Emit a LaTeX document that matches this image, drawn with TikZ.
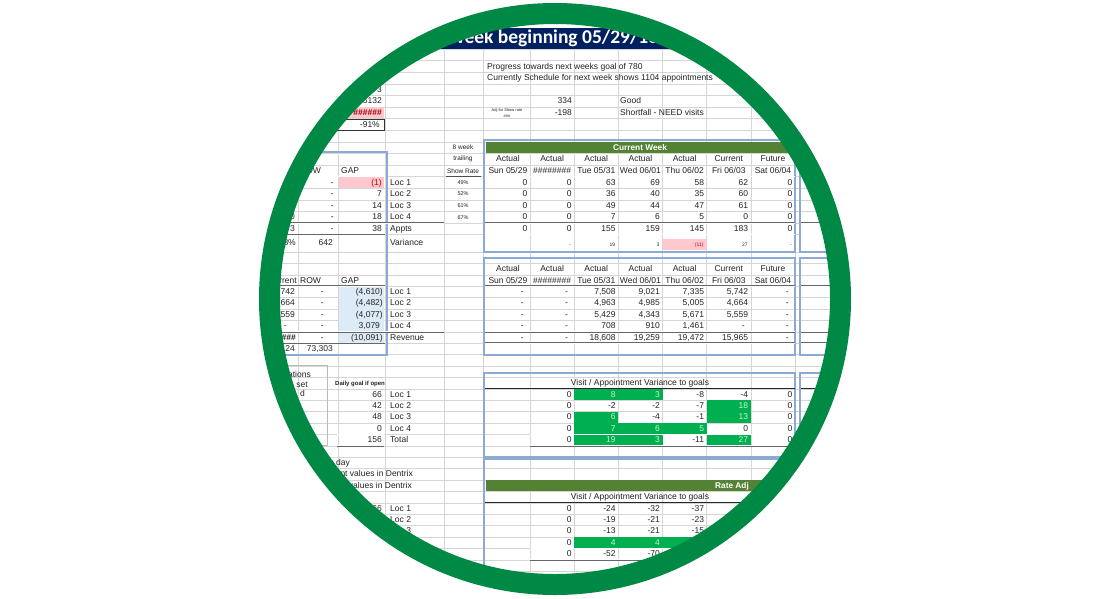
\documentclass[tikz,border=0pt]{standalone}
\usepackage{fontspec}
\setmainfont{Liberation Sans}
\newfontfamily\titlefont{Carlito}
\definecolor{ringg}{RGB}{0,137,68}
\definecolor{navy}{RGB}{0,32,96}
\definecolor{olive}{RGB}{84,130,53}
\definecolor{gfill}{RGB}{0,176,80}
\definecolor{gtxt}{RGB}{205,240,210}
\definecolor{pinkf}{RGB}{255,199,206}
\definecolor{darkred}{RGB}{156,0,6}
\definecolor{redt}{RGB}{192,0,0}
\definecolor{bluef}{RGB}{221,235,247}
\definecolor{boxb}{RGB}{141,170,212}
\definecolor{gridc}{RGB}{214,214,214}
\definecolor{ink}{RGB}{35,35,35}
\newcommand\myrow[3]{\foreach \v [count=\i from #2] in {#3} {\node[num] at ({483.33+44.17*\i},#1) {\v};}}
\newcommand\mydash[2]{\foreach \i in {#2} {\node[num] at ({479.83+44.17*\i},#1) {-};}}
\newcommand\myhdr[2]{%
  \foreach \h [count=\i] in {Actual,Actual,Actual,Actual,Actual,Current,Future} {\node[ctr] at ({463.75+44.17*\i},#1) {\h};}
  \foreach \h [count=\i] in {Sun 05/29,{\#\#\#\#\#\#\#\#},Tue 05/31,Wed 06/01,Thu 06/02,Fri 06/03,Sat 06/04} {\node[ctr] at ({463.75+44.17*\i},#2) {\h};}}
\newcommand\grnrow[2]{%
  \foreach \v/\g [count=\i from 2] in {#2} {%
    \ifnum\g=1
      \fill[gfill] ({441.66+44.17*\i},#1) rectangle ({485.83+44.17*\i},{#1+11.4});
      \node[num,text=gtxt] at ({483.33+44.17*\i},{#1+5.7}) {\v};
    \else
      \node[num] at ({483.33+44.17*\i},{#1+5.7}) {\v};
    \fi}}
\begin{document}
\begin{tikzpicture}[x=1pt,y=-1pt,
  t/.style={inner sep=0pt, font=\fontsize{8.5}{9}\selectfont, text=ink},
  num/.style={t, anchor=mid east},
  lab/.style={t, anchor=mid west},
  ctr/.style={t, anchor=mid},
  tinyt/.style={inner sep=0pt, font=\fontsize{5.5}{6}\selectfont, text=ink},
  dbl/.style={draw=black!60, line width=0.45pt, double=white, double distance=0.7pt},
  bx/.style={draw=boxb, line width=1.1pt},
  gl/.style={draw=gridc, line width=0.6pt},
  bline/.style={draw=black!85, line width=1.1pt}
]
\useasboundingbox (0,0) rectangle (1111,598);
\fill[white] (0,0) rectangle (1111,598);
\begin{scope}
\clip (555,299) circle[radius=287pt];
% grid
\foreach \k in {0,...,16} {\draw[gl] (250,{49+11.6*\k}) -- (870,{49+11.6*\k});}
\foreach \k in {0,...,31} {\draw[gl] (250,{252+11.4*\k}) -- (870,{252+11.4*\k});}
\foreach \x in {255,298,338,385,444,483,530,574.2,618.3,662.5,706.7,750.8,795,840,885} {\draw[gl] (\x,48) -- (\x,600);}
% title bar
\fill[navy] (250,27.5) rectangle (870,48.5);
\node[anchor=base west,inner sep=0pt,text=white,font=\titlefont\bfseries\fontsize{19.5}{21}\selectfont] (title) at (450,43.5) {week beginning 05/29/16};
% top texts
\node[lab] (prog) at (487,66.4) {Progress towards next weeks goal of 780};
\node[lab] (sched) at (487,78.0) {Currently Schedule for next week shows 1104 appointments};
\node[num] (v334) at (572,101.2) {334};
\node[num] (v198) at (572,112.8) {-198};
\node[lab] (good) at (620,101.2) {Good};
\node[lab] (short) at (620,112.8) {Shortfall - NEED visits};
\node[inner sep=0pt,font=\fontsize{4}{4.5}\selectfont,text=ink] (adj) at (507,110.5) {Adj for Show rate};
\node[inner sep=0pt,font=\fontsize{4}{4.5}\selectfont,text=ink] (adj2) at (507,116.5) {\#\#\#};
\node[num] (lt3) at (382,89.6) {3};
\node[num] (lt4) at (382,101.2) {5132};
\fill[pinkf] (338.5,107.3) rectangle (384,118.3);
\node[num,text=darkred,font=\bfseries\fontsize{8.5}{9}\selectfont] (lt5) at (382,112.8) {\#\#\#\#\#\#};
\draw[black!80,line width=0.6pt] (337.5,118.8) rectangle (384,130.2);
\node[num] (lt6) at (380,124.4) {-91\%};
% ===== left box 1 =====
\draw[bx] (250,152) rectangle (387,355);
\node[lab] (hrow1) at (300,170.8) {ROW};
\node[lab] (hgap1) at (341,170.8) {GAP};
\fill[pinkf] (338.5,177) rectangle (384,188);
\node[num,text=redt] (g1) at (382,182.4) {(1)};
\foreach \v [count=\j] in {7,14,18,38} {\node[num] at (382,{182.4+11.6*\j}) {\v};}
\foreach \j in {0,...,4} {\node[num] at (334,{182.4+11.6*\j}) {-};}
\node[num] at (295,205.6) {3};
\node[num] at (295,217.2) {0};
\node[num] at (295,228.8) {3};
\foreach \l [count=\j from 0] in {Loc 1,Loc 2,Loc 3,Loc 4,Appts} {\node[lab] at (390,{182.4+11.6*\j}) {\l};}
\node[lab] (var) at (390,243.3) {Variance};
\node[num] (p642) at (333,243.3) {642};
\node[num] (p8) at (296,243.3) {8\%};
\draw[dbl] (250,176.6) -- (385,176.6);
\draw[dbl] (250,223) -- (444,223);
\draw[black!60,line width=0.6pt] (250,234.6) -- (385,234.6);
% show rate column
\node[inner sep=0pt,font=\fontsize{6.5}{7}\selectfont,text=ink] (w8) at (463,147.6) {8 week};
\node[inner sep=0pt,font=\fontsize{6.5}{7}\selectfont,text=ink] (trl) at (463,159.2) {trailing};
\node[inner sep=0pt,font=\fontsize{6.5}{7}\selectfont,text=ink] (shr) at (463,170.8) {Show Rate};
\draw[black!70,line width=0.6pt] (446,176.6) -- (481,176.6);
\foreach \v [count=\j from 0] in {49\%,52\%,61\%,67\%} {\node[tinyt] at (463,{182.4+11.6*\j}) {\v};}
% ===== current week box =====
\draw[bx] (484,140) rectangle (795,252);
\fill[olive] (485.5,142.3) rectangle (794,153.4);
\node[inner sep=0pt,text=white,font=\bfseries\fontsize{8.3}{9}\selectfont] (cw) at (640,148) {Current Week};
\myhdr{159.2}{170.8}
\myrow{182.4}{1}{0,0,63,69,58,62,0}
\myrow{194.0}{1}{0,0,36,40,35,60,0}
\myrow{205.6}{1}{0,0,49,44,47,61,0}
\myrow{217.2}{1}{0,0,7,6,5,0,0}
\myrow{228.8}{1}{0,0,155,159,145,183,0}
\draw[dbl] (485,176.6) -- (795,176.6);
\draw[dbl] (485,223) -- (795,223);
\draw[dbl] (485,234.6) -- (795,234.6);
\fill[pinkf] (663,238.5) rectangle (706.5,249.5);
\foreach \v/\c [count=\i from 2] in {-/ink,19/ink,3/ink,(11)/redt,27/ink,-/ink} {\node[inner sep=0pt,anchor=mid east,font=\fontsize{5}{5.5}\selectfont,text=\c] at ({482.83+44.17*\i},244) {\v};}
% ===== revenue box =====
\draw[bx] (484,258) rectangle (795,355);
\myhdr{269.1}{280.5}
\mydash{291.9}{1,2,7}
\myrow{291.9}{3}{{7,508},{9,021},{7,335},{5,742}}
\mydash{303.3}{1,2,7}
\myrow{303.3}{3}{{4,963},{4,985},{5,005},{4,664}}
\mydash{314.7}{1,2,7}
\myrow{314.7}{3}{{5,429},{4,343},{5,671},{5,559}}
\mydash{326.1}{1,2,6,7}
\myrow{326.1}{3}{708,910,{1,461}}
\mydash{337.5}{1,2,7}
\myrow{337.5}{3}{{18,608},{19,259},{19,472},{15,965}}
\draw[dbl] (485,286.2) -- (795,286.2);
\draw[dbl] (485,331.8) -- (795,331.8);
\draw[dbl] (485,343.2) -- (795,343.2);
% left revenue table
\fill[bluef] (338.5,286.6) rectangle (384,343);
\node[num] (cur2) at (297,280.5) {Current};
\node[lab] (hrow2) at (300,280.5) {ROW};
\node[lab] (hgap2) at (341,280.5) {GAP};
\foreach \v [count=\j from 0] in {{5,742},{4,664},{5,559}} {\node[num] at (295,{291.9+11.4*\j}) {\v};}
\node[num] at (287,326.1) {-};
\node[num,font=\bfseries\fontsize{8.5}{9}\selectfont] at (296,337.5) {\#\#\#\#\#\#};
\foreach \j in {0,...,4} {\node[num] at (324,{291.9+11.4*\j}) {-};}
\foreach \v [count=\j from 0] in {{(4,610)},{(4,482)},{(4,077)},{3,079\,\,},{(10,091)}} {\node[num] at (383,{291.9+11.4*\j}) {\v};}
\foreach \l [count=\j from 0] in {Loc 1,Loc 2,Loc 3,Loc 4,Revenue} {\node[lab] at (390,{291.9+11.4*\j}) {\l};}
\node[num] (r724) at (295,348.9) {7.24};
\node[num] (r733) at (333,348.9) {73,303};
\draw[dbl] (250,286.2) -- (385,286.2);
\draw[dbl] (250,331.8) -- (444,331.8);
\draw[black!60,line width=0.6pt] (250,343.2) -- (385,343.2);
% ===== variance box =====
\draw[bx] (484,373) rectangle (795,457);
\node[ctr] (vt1) at (640,383.1) {Visit / Appointment Variance to goals};
\draw[bline] (485,388.8) -- (795,388.8);
\grnrow{388.8}{0/0,8/1,3/1,-8/0,-4/0,0/0}
\grnrow{400.2}{0/0,-2/0,-2/0,-7/0,18/1,0/0}
\grnrow{411.6}{0/0,6/1,-4/0,-1/0,13/1,0/0}
\grnrow{423.0}{0/0,7/1,6/1,5/1,0/0,0/0}
\grnrow{434.4}{0/0,19/1,3/1,-11/0,27/1,0/0}
\draw[dbl] (530,434.4) -- (795,434.4);
\draw[dbl] (530,445.8) -- (795,445.8);
% left lower area
\draw[gray!55,line width=0.6pt] (250,365.5) rectangle (327,445.5);
\node[num] (n1) at (311,375) {ations};
\node[num] (n2) at (308,384.5) {set};
\node[num] (n3) at (305,394) {d};
\node[inner sep=0pt,anchor=mid west,font=\bfseries\fontsize{6}{6.5}\selectfont,text=ink] (dg) at (335,383.1) {Daily goal if open};
\foreach \v [count=\j from 0] in {66,42,48,0,156} {\node[num] at (382,{394.5+11.4*\j}) {\v};}
\foreach \l [count=\j from 0] in {Loc 1,Loc 2,Loc 3,Loc 4,Total} {\node[lab] at (390,{394.5+11.4*\j}) {\l};}
\draw[dbl] (337,434.4) -- (384,434.4);
\draw[dbl] (337,445.8) -- (384,445.8);
\node[num] (d1) at (350,462.9) {e day};
\node[num] (d2) at (413,474.3) {ent values in Dentrix};
\node[num] (d3) at (412,485.7) {values in Dentrix};
% ===== rate adjusted box =====
\draw[bx] (484,459) rectangle (795,620);
\fill[olive] (485.5,480) rectangle (870,491.4);
\node[inner sep=0pt,anchor=mid west,text=white,font=\bfseries\fontsize{8.3}{9}\selectfont] (ra) at (715,485.7) {Rate Adj};
\node[ctr] (vt2) at (640,497.1) {Visit / Appointment Variance to goals};
\draw[bline] (485,502.8) -- (870,502.8);
\fill[gfill] (574.2,537) rectangle (795,548.4);
\myrow{508.5}{2}{0,-24,-32,-37}
\myrow{519.9}{2}{0,-19,-21,-23}
\myrow{531.3}{2}{0,-13,-21,-15}
\node[num] at (571.67,542.7) {0};
\node[num,text=gtxt] at (615.84,542.7) {4};
\node[num,text=gtxt] at (660.01,542.7) {4};
\myrow{554.1}{2}{0,-52,-70}
\draw[dbl] (530,548.4) -- (870,548.4);
\draw[dbl] (530,559.8) -- (870,559.8);
\node[num] (l66) at (382,508.5) {66};
\node[lab] at (390,508.5) {Loc 1};
\node[lab] at (390,519.9) {Loc 2};
\node[lab] at (390,531.3) {Loc 3};
% ===== right boxes =====
\draw[bx] (800,140) rectangle (905,252);
\draw[bx] (800,258) rectangle (905,355);
\draw[bx] (800,373) rectangle (905,457);
\draw[dbl] (801,223) -- (905,223);
\draw[dbl] (801,234.6) -- (905,234.6);
\draw[dbl] (801,286.2) -- (905,286.2);
\draw[dbl] (801,331.8) -- (905,331.8);
\draw[dbl] (801,343.2) -- (905,343.2);
\draw[bline] (801,388.8) -- (905,388.8);
\draw[dbl] (801,434.4) -- (905,434.4);
\draw[dbl] (801,445.8) -- (905,445.8);
\end{scope}
% ring
\draw[ringg, line width=21pt] (555,299) circle[radius=285.5pt];
\end{tikzpicture}
\end{document}
